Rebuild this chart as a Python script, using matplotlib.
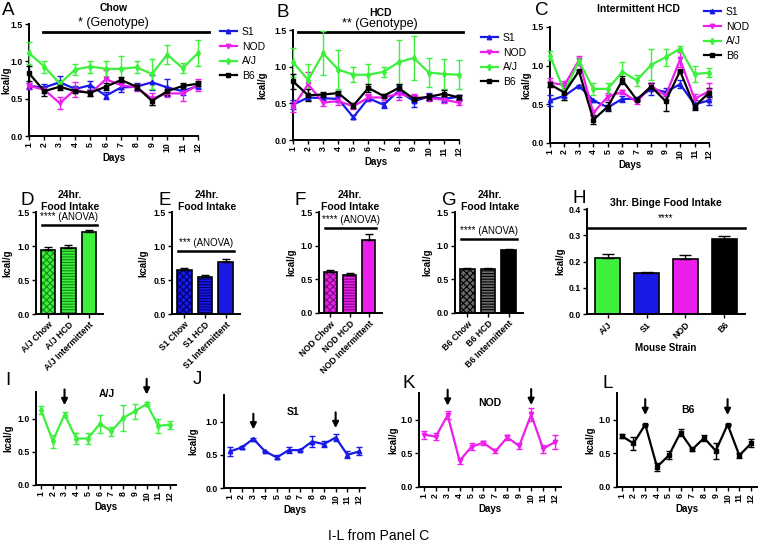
import numpy as np
import matplotlib
matplotlib.use("Agg")
import matplotlib.pyplot as plt
from matplotlib.lines import Line2D

plt.rcParams["font.family"] = ["Liberation Sans", "DejaVu Sans"]
plt.rcParams["hatch.linewidth"] = 0.8

W, H = 758, 549

# ---- data -------------------------------------------------------------
days = list(range(1, 13))
strains = ["S1", "NOD", "A/J", "B6"]

# Panel A: Chow
chow_s1 = [0.67, 0.65, 0.72, 0.63, 0.68, 0.54, 0.65, 0.66, 0.72, 0.65, 0.60, 0.67]
chow_s1_err = [0.04, 0.04, 0.08, 0.04, 0.06, 0.05, 0.06, 0.05, 0.10, 0.12, 0.05, 0.04]
chow_nod = [0.67, 0.62, 0.44, 0.62, 0.57, 0.76, 0.68, 0.65, 0.50, 0.57, 0.57, 0.68]
chow_nod_err = [0.04, 0.05, 0.08, 0.10, 0.04, 0.12, 0.05, 0.05, 0.08, 0.05, 0.10, 0.08]
chow_aj = [1.11, 0.93, 0.70, 0.89, 0.93, 0.90, 0.90, 0.92, 0.83, 1.09, 0.91, 1.11]
chow_aj_err = [0.15, 0.08, 0.05, 0.07, 0.08, 0.10, 0.17, 0.08, 0.20, 0.13, 0.07, 0.17]
chow_b6 = [0.84, 0.60, 0.66, 0.60, 0.58, 0.66, 0.75, 0.66, 0.47, 0.60, 0.67, 0.70]
chow_b6_err = [0.10, 0.06, 0.04, 0.03, 0.04, 0.05, 0.04, 0.04, 0.05, 0.05, 0.04, 0.03]

# Panel B: HCD
hcd_s1 = [0.48, 0.58, 0.57, 0.56, 0.31, 0.57, 0.48, 0.67, 0.53, 0.59, 0.56, 0.59]
hcd_s1_err = [0.06, 0.04, 0.03, 0.04, 0.03, 0.04, 0.04, 0.08, 0.08, 0.05, 0.04, 0.03]
hcd_nod = [0.45, 0.76, 0.51, 0.53, 0.46, 0.58, 0.58, 0.63, 0.58, 0.57, 0.55, 0.51]
hcd_nod_err = [0.07, 0.17, 0.05, 0.05, 0.04, 0.05, 0.04, 0.08, 0.05, 0.04, 0.04, 0.03]
hcd_aj = [1.06, 0.82, 1.18, 0.96, 0.89, 0.89, 0.93, 1.06, 1.12, 0.92, 0.90, 0.89]
hcd_aj_err = [0.20, 0.22, 0.30, 0.27, 0.10, 0.15, 0.07, 0.30, 0.30, 0.20, 0.20, 0.20]
hcd_b6 = [0.80, 0.61, 0.62, 0.64, 0.47, 0.71, 0.60, 0.71, 0.56, 0.59, 0.63, 0.58]
hcd_b6_err = [0.10, 0.08, 0.03, 0.03, 0.04, 0.06, 0.03, 0.05, 0.04, 0.04, 0.05, 0.03]

# Panel C / I-L: Intermittent HCD
int_s1 = [0.55, 0.61, 0.74, 0.55, 0.46, 0.57, 0.57, 0.70, 0.66, 0.76, 0.50, 0.55]
int_s1_err = [0.07, 0.02, 0.01, 0.01, 0.03, 0.04, 0.02, 0.08, 0.05, 0.05, 0.05, 0.06]
int_nod = [0.78, 0.75, 1.07, 0.39, 0.60, 0.66, 0.53, 0.74, 0.61, 1.08, 0.57, 0.67]
int_nod_err = [0.06, 0.05, 0.06, 0.04, 0.05, 0.03, 0.03, 0.04, 0.05, 0.10, 0.06, 0.10]
int_aj = [1.13, 0.66, 1.06, 0.70, 0.70, 0.92, 0.81, 1.01, 1.11, 1.22, 0.89, 0.91]
int_aj_err = [0.06, 0.10, 0.04, 0.08, 0.08, 0.13, 0.07, 0.20, 0.11, 0.03, 0.10, 0.06]
int_b6 = [0.76, 0.65, 0.93, 0.30, 0.47, 0.81, 0.56, 0.73, 0.54, 0.93, 0.47, 0.65]
int_b6_err = [0.03, 0.10, 0.01, 0.06, 0.06, 0.05, 0.02, 0.05, 0.12, 0.01, 0.04, 0.06]

# Panels D-G: 24hr food intake
diets = ["Chow", "HCD", "Intermittent"]
aj_24 = [0.94, 0.97, 1.21]
aj_24_err = [0.05, 0.05, 0.03]
s1_24 = [0.65, 0.54, 0.77]
s1_24_err = [0.02, 0.03, 0.04]
nod_24 = [0.61, 0.57, 1.09]
nod_24_err = [0.03, 0.03, 0.09]
b6_24 = [0.65, 0.65, 0.93]
b6_24_err = [0.02, 0.02, 0.02]

# Panel H: 3hr binge
binge_strains = ["A/J", "S1", "NOD", "B6"]
binge_vals = [0.212, 0.155, 0.209, 0.284]
binge_err = [0.016, 0.006, 0.016, 0.015]

colors = {"S1": "#1a1ae6", "NOD": "#ec1eec", "A/J": "#3cf03c", "B6": "#000000"}
hatch_cols = {"S1": "#00006e", "NOD": "#7a0a7a", "A/J": "#158a15", "B6": "#000000"}
markers = {"S1": "^", "NOD": "v", "A/J": "d", "B6": "s"}

fig = plt.figure(figsize=(W / 100, H / 100), dpi=100)


def px_axes(left, top, right, bottom, ylab_x):
    ax = fig.add_axes([left / W, 1 - bottom / H, (right - left) / W, (bottom - top) / H])
    ax.set_ylabel("kcal/g", fontsize=7, fontweight="bold")
    ax.yaxis.set_label_coords((ylab_x - left) / (right - left), 0.5)
    return ax


def ftxt(x, y, s, **kw):
    kw.setdefault("ha", "center")
    kw.setdefault("va", "center")
    fig.text(x / W, 1 - y / H, s, **kw)


def style(ax):
    for side in ["top", "right"]:
        ax.spines[side].set_visible(False)
    for side in ["left", "bottom"]:
        ax.spines[side].set_linewidth(1.4)
    ax.tick_params(length=3, width=1, pad=1.5)
    for lab in ax.get_xticklabels() + ax.get_yticklabels():
        lab.set_fontweight("bold")
        lab.set_fontsize(6.3)


def line_panel(ax, series, xlim, ylim, yticks):
    for name, vals, errs in series:
        ax.errorbar(days, vals, yerr=errs, color=colors[name], marker=markers[name],
                    markersize=3.2, lw=1.6, elinewidth=1.0, capsize=2.2, capthick=1.0,
                    clip_on=False, zorder=3)
    ax.set_xlim(*xlim)
    ax.set_ylim(*ylim)
    ax.set_xticks(days)
    ax.set_xticklabels([str(d) for d in days], rotation=90)
    ax.set_yticks(yticks)
    ax.set_yticklabels(["%.1f" % t for t in yticks])
    ax.set_xlabel("Days", fontsize=7, fontweight="bold", labelpad=1)
    style(ax)


def legend(ax, x, y):
    handles = [Line2D([0], [0], color=colors[s], marker=markers[s], markersize=3.2, lw=1.6)
               for s in strains]
    ax.legend(handles, strains, loc="upper left", bbox_to_anchor=(x / W, 1 - y / H),
              bbox_transform=fig.transFigure, frameon=False, fontsize=7.5,
              handlelength=1.6, handletextpad=0.5, labelspacing=0.45,
              borderaxespad=0, borderpad=0)


# ---- top row: A, B, C ---------------------------------------------------
ax_a = px_axes(29, 24, 198, 136, 11)
line_panel(ax_a, [("S1", chow_s1, chow_s1_err), ("NOD", chow_nod, chow_nod_err),
                  ("A/J", chow_aj, chow_aj_err), ("B6", chow_b6, chow_b6_err)],
           (1, 12), (0, 1.5), [0, 0.5, 1.0, 1.5])
ax_a.plot([1.9, 12.7], [1.39, 1.39], color="k", lw=2, clip_on=False)
legend(ax_a, 220, 27)
ftxt(114, 8, "Chow", fontsize=7.5, fontweight="bold")
ftxt(113, 23, "* (Genotype)", fontsize=9)

ax_b = px_axes(293, 30, 459, 140, 267)
line_panel(ax_b, [("S1", hcd_s1, hcd_s1_err), ("NOD", hcd_nod, hcd_nod_err),
                  ("A/J", hcd_aj, hcd_aj_err), ("B6", hcd_b6, hcd_b6_err)],
           (1, 12), (0, 1.5), [0, 0.5, 1.0, 1.5])
ax_b.plot([1.33, 12.26], [1.47, 1.47], color="k", lw=2, clip_on=False)
legend(ax_b, 481, 33)
ftxt(380, 13, "HCD", fontsize=7.5, fontweight="bold")
ftxt(380, 24, "** (Genotype)", fontsize=9)

ax_c = px_axes(550, 27, 709, 143, 531)
line_panel(ax_c, [("S1", int_s1, int_s1_err), ("NOD", int_nod, int_nod_err),
                  ("A/J", int_aj, int_aj_err), ("B6", int_b6, int_b6_err)],
           (1, 12), (0, 1.5), [0, 0.5, 1.0, 1.5])
legend(ax_c, 704, 7)
ftxt(638, 9, "Intermittent HCD", fontsize=7.5, fontweight="bold")


# ---- middle row: D-H ----------------------------------------------------
def bar_panel(ax, strain, vals, errs, labels, sig_text, sig_y, sig_x):
    x = np.arange(len(vals))
    hatches = ["xxxxx", "------", ""]
    for i in range(len(vals)):
        face = colors[strain] if strain != "B6" or i == 2 else "#6a6a6a"
        ax.bar(x[i], vals[i], width=0.7, color=face, hatch=hatches[i],
               edgecolor=hatch_cols[strain], linewidth=0, zorder=2)
        ax.bar(x[i], vals[i], width=0.7, fill=False, edgecolor="k", linewidth=1.2, zorder=3)
    ax.errorbar(x, vals, yerr=[np.zeros(len(errs)), errs], fmt="none", ecolor="k",
                elinewidth=1, capsize=3, capthick=1, zorder=4)
    ax.set_xlim(-0.6, 2.7)
    ax.set_ylim(0, 1.5)
    ax.set_yticks([0, 0.5, 1.0, 1.5])
    ax.set_yticklabels(["0.0", "0.5", "1.0", "1.5"])
    ax.set_xticks(x)
    ax.set_xticklabels(labels, rotation=45, ha="right", rotation_mode="anchor")
    style(ax)
    ax.plot(sig_x, [sig_y, sig_y], color="k", lw=1.8, clip_on=False)
    ax.text(np.mean(sig_x), sig_y + 0.04, sig_text, ha="center", va="bottom", fontsize=7)


ax_d = px_axes(36, 212, 103, 314, 12)
bar_panel(ax_d, "A/J", aj_24, aj_24_err, ["A/J " + d for d in diets], "**** (ANOVA)", 1.31, [-0.3, 2.4])
ax_e = px_axes(172, 212, 240, 314, 148)
bar_panel(ax_e, "S1", s1_24, s1_24_err, ["S1 " + d for d in diets], "*** (ANOVA)", 0.93, [-0.3, 2.4])
ax_f = px_axes(319, 212, 382, 313, 296)
bar_panel(ax_f, "NOD", nod_24, nod_24_err, ["NOD " + d for d in diets], "**** (ANOVA)", 1.26, [-0.3, 2.4])
ax_g = px_axes(455, 212, 523, 313, 432)
bar_panel(ax_g, "B6", b6_24, b6_24_err, ["B6 " + d for d in diets], "**** (ANOVA)", 1.10, [-0.3, 2.4])

for cx in [70, 207, 350, 490]:
    ftxt(cx, 195, "24hr.", fontsize=7.5, fontweight="bold")
    ftxt(cx, 207, "Food Intake", fontsize=7.5, fontweight="bold")

ax_h = px_axes(587, 209, 745, 314, 565)
xh = np.arange(len(binge_vals))
ax_h.bar(xh, binge_vals, width=0.65, color=[colors[s] for s in binge_strains],
         edgecolor="k", linewidth=1.2, zorder=2)
ax_h.errorbar(xh, binge_vals, yerr=[np.zeros(len(binge_err)), binge_err], fmt="none",
              ecolor="k", elinewidth=1, capsize=4, capthick=1, zorder=4)
ax_h.set_xlim(-0.54, 3.54)
ax_h.set_ylim(0, 0.4)
ax_h.set_yticks([0, 0.1, 0.2, 0.3, 0.4])
ax_h.set_yticklabels(["0.0", "0.1", "0.2", "0.3", "0.4"])
ax_h.set_xticks(xh)
ax_h.set_xticklabels(binge_strains, rotation=45, ha="right", rotation_mode="anchor")
ax_h.set_xlabel("Mouse Strain", fontsize=7, fontweight="bold", labelpad=2)
style(ax_h)
ax_h.plot([-0.54, 3.54], [0.328, 0.328], color="k", lw=1.8, clip_on=False)
ax_h.text(1.5, 0.345, "****", ha="center", va="bottom", fontsize=7)
ftxt(666, 203, "3hr. Binge Food Intake", fontsize=7.5, fontweight="bold")

# ---- bottom row: I-L ----------------------------------------------------
bottom = [
    ("A/J", int_aj, int_aj_err, (36, 392, 176, 485), 13, (0.57, 12.5), (107, 394)),
    ("S1", int_s1, int_s1_err, (224, 395, 365, 488), 198, (0.5, 12.5), (293, 412)),
    ("NOD", int_nod, int_nod_err, (419, 393, 561, 487), 398, (0.6, 12.5), (490, 403)),
    ("B6", int_b6, int_b6_err, (617, 393, 757, 487), 595, (0.6, 12.5), (688, 410)),
]
for name, vals, errs, box, ylx, xl, tpos in bottom:
    ax = px_axes(*box, ylx)
    line_panel(ax, [(name, vals, errs)], xl, (0, 1.4), [0, 0.5, 1.0])
    for d in [3, 10]:
        tip = vals[d - 1] + 0.1
        ax.annotate("", xy=(d, tip), xytext=(d, tip + 0.32), annotation_clip=False,
                    arrowprops=dict(arrowstyle="-|>", color="k", lw=1.5, mutation_scale=9))
    ftxt(tpos[0], tpos[1], name, fontsize=7.5, fontweight="bold")

# panel letters
letters = [("A", 2, 15), ("B", 277, 17), ("C", 535, 15), ("D", 20, 205), ("E", 159, 205),
           ("F", 295, 205), ("G", 442, 205), ("H", 573, 203), ("I", 5, 385),
           ("J", 193, 384), ("K", 403, 388), ("L", 603, 388)]
for s, x, y in letters:
    ftxt(x, y, s, fontsize=13.5, ha="left", va="baseline")

ftxt(379, 536, "I-L from Panel C", fontsize=10)

fig.savefig("out.png", dpi=100)
